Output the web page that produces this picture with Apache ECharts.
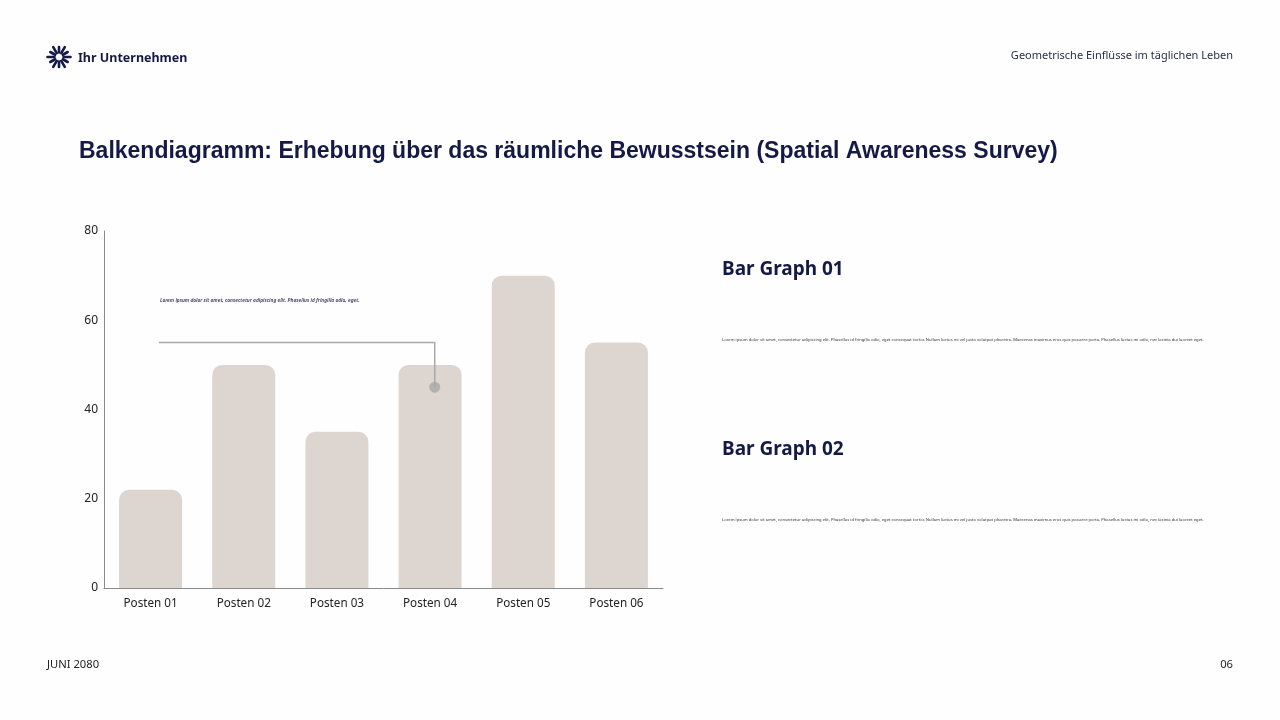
<!DOCTYPE html>
<html><head><meta charset="utf-8">
<script src="https://cdn.jsdelivr.net/npm/echarts@6/dist/echarts.min.js"></script>
<style>html,body{margin:0;padding:0;background:#fff}#c{width:1280px;height:720px}</style>
</head><body><div id="c"></div>
<script>
const categories = ['Posten 01','Posten 02','Posten 03','Posten 04','Posten 05','Posten 06'];
const values = [22, 50, 35, 50, 70, 55];
const yTicks = {min: 0, max: 80, interval: 20};
const calloutPath = [[0.59, 55], [3.55, 55], [3.55, 45]];
const calloutDot = [[3.55, 45]];
const calloutTextPos = [[0.6, 64.5]];
const calloutText = 'Lorem ipsum dolor sit amet, consectetur adipiscing elit. Phasellus id fringilla odio, eget.';
const loremRight = 'Lorem ipsum dolor sit amet, consectetur adipiscing elit. Phasellus id fringilla odio, eget consequat tortor. Nullam luctus mi vel justo volutpat pharetra. Maecenas maximus eros quis posuere porta. Phasellus luctus mi odio, nec lacinia dui laoreet eget.';

const navy = '#141a45';
const chart = echarts.init(document.getElementById('c'));

// logo rays
const rays = [];
const n = 12;
for (let i = 0; i < n; i++) {
  const a = i / n * Math.PI * 2;
  const r1 = 4.5, r2 = (i % 2 === 0) ? 11.5 : 10;
  rays.push({type:'line', shape:{x1:59+r1*Math.cos(a), y1:57+r1*Math.sin(a), x2:59+r2*Math.cos(a), y2:57+r2*Math.sin(a)},
    style:{stroke:navy, lineWidth:2.6, lineCap:'round'}});
}

chart.setOption({
  backgroundColor: '#fefefe',
  animation: false,
  textStyle: {fontFamily: 'Noto Sans'},
  graphic: [
    ...rays,
    {type:'text', left:78, top:52, style:{text:'Ihr Unternehmen', font:'bold 12.5px "Noto Sans"', fill:navy}},
    {type:'text', right:47, top:50, style:{text:'Geometrische Einflüsse im täglichen Leben', font:'11px "Noto Sans"', fill:'#2a2e4a'}},
    {type:'text', left:79, top:140, style:{text:'Balkendiagramm: Erhebung über das räumliche Bewusstsein (Spatial Awareness Survey)', font:'bold 23px "Liberation Sans"', fill:navy}},
    {type:'text', left:722, top:260, style:{text:'Bar Graph 01', font:'bold 19px "Noto Sans"', fill:navy}},
    {type:'text', left:722, top:338, style:{text:loremRight, font:'4.15px "Noto Sans"', fill:'#333'}},
    {type:'text', left:722, top:440, style:{text:'Bar Graph 02', font:'bold 19px "Noto Sans"', fill:navy}},
    {type:'text', left:722, top:518, style:{text:loremRight, font:'4.15px "Noto Sans"', fill:'#333'}},
    {type:'text', left:47, top:659, style:{text:'JUNI 2080', font:'11.2px "Noto Sans"', fill:'#222'}},
    {type:'text', right:47, top:659, style:{text:'06', font:'11.2px "Noto Sans"', fill:'#222'}}
  ],
  grid: {left:104, right:617, top:231, bottom:132, containLabel:false},
  xAxis: [
    {type:'category', data:categories, axisLine:{lineStyle:{color:'#8a8a8a', width:1}}, axisTick:{show:false},
     axisLabel:{color:'#222', fontSize:11.7, margin:10, fontFamily:'Noto Sans'}},
    {type:'value', min:0, max:6, show:false}
  ],
  yAxis: {type:'value', min:yTicks.min, max:yTicks.max, interval:yTicks.interval,
    axisLine:{show:true, lineStyle:{color:'#8a8a8a', width:1}}, axisTick:{show:false}, splitLine:{show:false},
    axisLabel:{color:'#222', fontSize:12, margin:6, fontFamily:'Noto Sans'}},
  series: [
    {type:'bar', data:values, barWidth:63, itemStyle:{color:'#ddd6d0', borderRadius:[10,10,0,0]}},
    {type:'line', xAxisIndex:1, data:calloutPath, symbol:'none', lineStyle:{color:'#a8a8a8', width:1.5}, z:5},
    {type:'scatter', xAxisIndex:1, data:calloutDot, symbolSize:11, itemStyle:{color:'#a8a8a8'}, z:6},
    {type:'scatter', xAxisIndex:1, data:calloutTextPos, symbolSize:0,
     label:{show:true, position:'right', distance:0, formatter:calloutText, fontSize:4.8, fontStyle:'italic', fontWeight:'bold', color:navy}}
  ]
});
</script></body></html>
